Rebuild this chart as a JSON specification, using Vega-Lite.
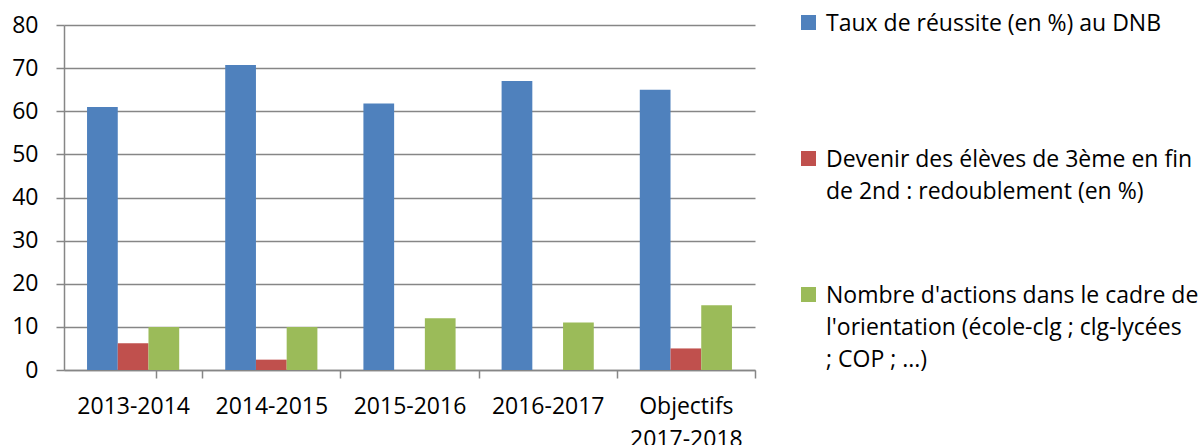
{
  "$schema": "https://vega.github.io/schema/vega-lite/v6.json",
  "width": 691,
  "height": 345,
  "autosize": {"type": "none"},
  "padding": {"left": 64, "top": 25, "right": 447, "bottom": 75},
  "background": "white",
  "config": {
    "view": {"stroke": null},
    "font": "Open Sans",
    "axis": {"labelFont": "Open Sans", "labelColor": "#000000", "labelFontSize": 23, "domainColor": "#868686", "tickColor": "#868686", "gridColor": "#868686", "domainWidth": 1.5, "tickWidth": 1.5, "gridWidth": 1.5}
  },
  "data": {
    "values": [
      {"periode": "2013-2014", "serie": "Taux de réussite (en %) au DNB", "valeur": 61},
      {"periode": "2013-2014", "serie": "Devenir des élèves de 3ème en fin de 2nd : redoublement (en %)", "valeur": 6.2},
      {"periode": "2013-2014", "serie": "Nombre d'actions dans le cadre de l'orientation (école-clg ; clg-lycées ; COP ; ...)", "valeur": 10},
      {"periode": "2014-2015", "serie": "Taux de réussite (en %) au DNB", "valeur": 70.7},
      {"periode": "2014-2015", "serie": "Devenir des élèves de 3ème en fin de 2nd : redoublement (en %)", "valeur": 2.4},
      {"periode": "2014-2015", "serie": "Nombre d'actions dans le cadre de l'orientation (école-clg ; clg-lycées ; COP ; ...)", "valeur": 10},
      {"periode": "2015-2016", "serie": "Taux de réussite (en %) au DNB", "valeur": 61.8},
      {"periode": "2015-2016", "serie": "Nombre d'actions dans le cadre de l'orientation (école-clg ; clg-lycées ; COP ; ...)", "valeur": 12},
      {"periode": "2016-2017", "serie": "Taux de réussite (en %) au DNB", "valeur": 67},
      {"periode": "2016-2017", "serie": "Nombre d'actions dans le cadre de l'orientation (école-clg ; clg-lycées ; COP ; ...)", "valeur": 11},
      {"periode": "Objectifs 2017-2018", "serie": "Taux de réussite (en %) au DNB", "valeur": 65},
      {"periode": "Objectifs 2017-2018", "serie": "Devenir des élèves de 3ème en fin de 2nd : redoublement (en %)", "valeur": 5},
      {"periode": "Objectifs 2017-2018", "serie": "Nombre d'actions dans le cadre de l'orientation (école-clg ; clg-lycées ; COP ; ...)", "valeur": 15}
    ]
  },
  "mark": {"type": "bar"},
  "encoding": {
    "x": {
      "field": "periode", "type": "nominal", "sort": null,
      "scale": {"paddingInner": 0.333, "paddingOuter": 0.1667},
      "axis": {"title": null, "labelAngle": 0, "tickOffset": 69.1, "labelOffset": -69.1, "tickExtra": true, "tickSize": 8, "labelPadding": 17, "labelBaseline": "top", "labelLineHeight": 33, "labelExpr": "datum.value ? split(datum.value, ' ') : ''", "grid": false}
    },
    "xOffset": {
      "field": "serie", "type": "nominal",
      "scale": {"domain": ["Taux de réussite (en %) au DNB", "Devenir des élèves de 3ème en fin de 2nd : redoublement (en %)", "Nombre d'actions dans le cadre de l'orientation (école-clg ; clg-lycées ; COP ; ...)"], "paddingInner": 0, "paddingOuter": 0}
    },
    "y": {
      "field": "valeur", "type": "quantitative",
      "scale": {"domain": [0, 80], "nice": false},
      "axis": {"title": null, "values": [0, 10, 20, 30, 40, 50, 60, 70, 80], "tickSize": 8, "labelPadding": 18, "grid": true, "gridDash": []}
    },
    "color": {
      "field": "serie", "type": "nominal",
      "scale": {"domain": ["Taux de réussite (en %) au DNB", "Devenir des élèves de 3ème en fin de 2nd : redoublement (en %)", "Nombre d'actions dans le cadre de l'orientation (école-clg ; clg-lycées ; COP ; ...)"], "range": ["#4F81BD", "#C0504D", "#9BBB59"]},
      "legend": {
        "title": null,
        "orient": "none",
        "legendX": 733,
        "legendY": -14,
        "padding": 0,
        "symbolType": "square",
        "symbolSize": 225,
        "symbolStrokeWidth": 0,
        "labelFont": "Open Sans",
        "labelFontSize": 23,
        "labelColor": "#000000",
        "labelOffset": 6,
        "labelLimit": 0,
        "labelBaseline": "alphabetic",
        "gridAlign": "all",
        "rowPadding": 47,
        "labelExpr": "test(/^Devenir/, datum.label) ? ['Devenir des élèves de 3ème en fin', 'de 2nd : redoublement (en %)'] : test(/^Nombre/, datum.label) ? [\"Nombre d'actions dans le cadre de\", \"l'orientation (école-clg ; clg-lycées\", '; COP ; ...)'] : datum.label",
        "encode": {"labels": {"update": {"lineHeight": {"value": 32}, "dy": {"value": 8}}}}
      }
    }
  }
}
